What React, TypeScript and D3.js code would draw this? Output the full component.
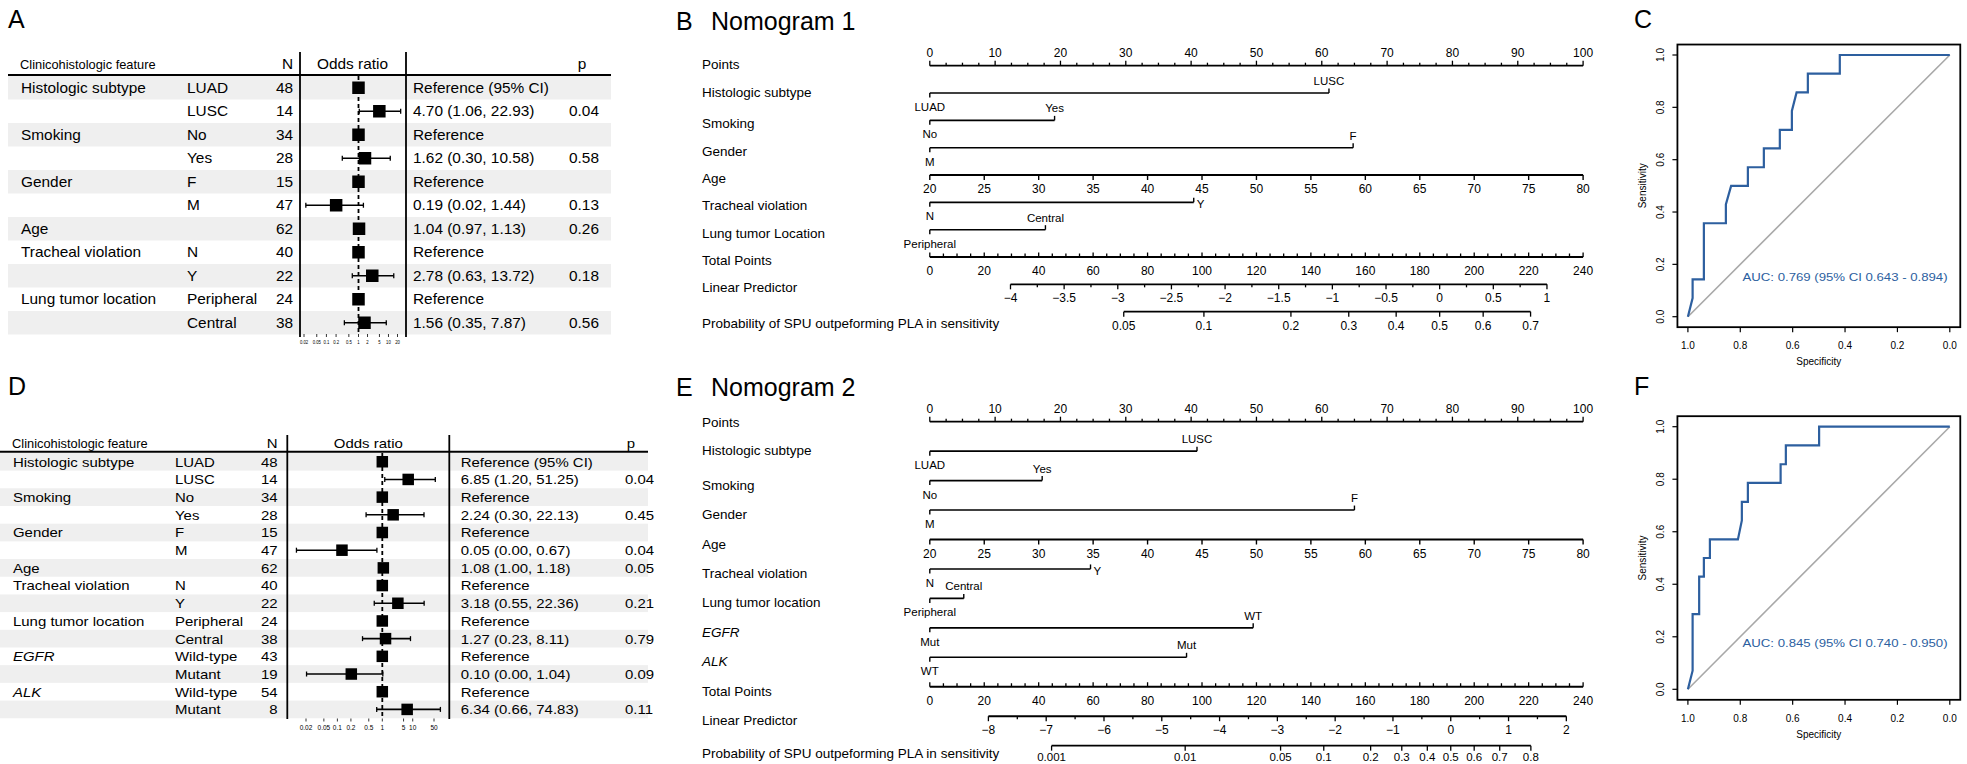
import React from 'react';
import * as d3 from 'd3';

const FONT = "'Liberation Sans', Arial, Helvetica, sans-serif";

// ---------------- Panel A: forest plot (model 1) ----------------
const aCategory = ['Histologic subtype', '', 'Smoking', '', 'Gender', '', 'Age', 'Tracheal violation', '', 'Lung tumor location', ''];
const aLevel = ['LUAD', 'LUSC', 'No', 'Yes', 'F', 'M', '', 'N', 'Y', 'Peripheral', 'Central'];
const aN = [48, 14, 34, 28, 15, 47, 62, 40, 22, 24, 38];
const aOR = [1, 4.70, 1, 1.62, 1, 0.19, 1.04, 1, 2.78, 1, 1.56];
const aLower = [NaN, 1.06, NaN, 0.30, NaN, 0.02, 0.97, NaN, 0.63, NaN, 0.35];
const aUpper = [NaN, 22.93, NaN, 10.58, NaN, 1.44, 1.13, NaN, 13.72, NaN, 7.87];
const aP = ['', '0.04', '', '0.58', '', '0.13', '0.26', '', '0.18', '', '0.56'];
const aTicks = [0.02, 0.05, 0.1, 0.2, 0.5, 1, 2, 5, 10, 20];

// ---------------- Panel D: forest plot (model 2) ----------------
const dCategory = ['Histologic subtype', '', 'Smoking', '', 'Gender', '', 'Age', 'Tracheal violation', '', 'Lung tumor location', '', 'EGFR', '', 'ALK', ''];
const dLevel = ['LUAD', 'LUSC', 'No', 'Yes', 'F', 'M', '', 'N', 'Y', 'Peripheral', 'Central', 'Wild-type', 'Mutant', 'Wild-type', 'Mutant'];
const dN = [48, 14, 34, 28, 15, 47, 62, 40, 22, 24, 38, 43, 19, 54, 8];
const dOR = [1, 6.85, 1, 2.24, 1, 0.05, 1.08, 1, 3.18, 1, 1.27, 1, 0.10, 1, 6.34];
const dLower = [NaN, 1.20, NaN, 0.30, NaN, 0.0017, 1.00, NaN, 0.55, NaN, 0.23, NaN, 0.0036, NaN, 0.66];
const dUpper = [NaN, 51.25, NaN, 22.13, NaN, 0.67, 1.18, NaN, 22.36, NaN, 8.11, NaN, 1.04, NaN, 74.83];
const dP = ['', '0.04', '', '0.45', '', '0.04', '0.05', '', '0.21', '', '0.79', '', '0.09', '', '0.11'];
const dTicks = [0.02, 0.05, 0.1, 0.2, 0.5, 1, 5, 10, 50];
const italicCategories = ['EGFR', 'ALK'];

// ---------------- Nomogram 1 (B) ----------------
const n1Names = ['Histologic subtype', 'Smoking', 'Gender', 'Age', 'Tracheal violation', 'Lung tumor Location'];
const n1Levels: (string[] | null)[] = [['LUAD', 'LUSC'], ['No', 'Yes'], ['M', 'F'], null, ['N', 'Y'], ['Peripheral', 'Central']];
const n1Points: (number[] | null)[] = [[0, 61.1], [0, 19.1], [0, 64.8], null, [0, 40.4], [0, 17.7]];
const n1LP = { intercept: -4.752, slope: 0.02537 };
const n1LPTicks = [-4, -3.5, -3, -2.5, -2, -1.5, -1, -0.5, 0, 0.5, 1];
const n1ProbTicks = [0.05, 0.1, 0.2, 0.3, 0.4, 0.5, 0.6, 0.7];

// ---------------- Nomogram 2 (E) ----------------
const n2Names = ['Histologic subtype', 'Smoking', 'Gender', 'Age', 'Tracheal violation', 'Lung tumor location', 'EGFR', 'ALK'];
const n2Levels: (string[] | null)[] = [['LUAD', 'LUSC'], ['No', 'Yes'], ['M', 'F'], null, ['N', 'Y'], ['Peripheral', 'Central'], ['Mut', 'WT'], ['WT', 'Mut']];
const n2Points: (number[] | null)[] = [[0, 40.9], [0, 17.2], [0, 65.0], null, [0, 24.6], [0, 5.2], [0, 49.5], [0, 39.3]];
const n2LP = { intercept: -9.014, slope: 0.0471 };
const n2LPTicks = [-8, -7, -6, -5, -4, -3, -2, -1, 0, 1, 2];
const n2ProbTicks = [0.001, 0.01, 0.05, 0.1, 0.2, 0.3, 0.4, 0.5, 0.6, 0.7, 0.8];

const pointsTicks = [0, 10, 20, 30, 40, 50, 60, 70, 80, 90, 100];
const totalPointsTicks = [0, 20, 40, 60, 80, 100, 120, 140, 160, 180, 200, 220, 240];
const ageTicks = [20, 25, 30, 35, 40, 45, 50, 55, 60, 65, 70, 75, 80];
const ageRange = [20, 80];

// ---------------- ROC curves (C, F) ----------------
const rocCSpec = [1.0, 0.982, 0.982, 0.939, 0.939, 0.855, 0.855, 0.835, 0.771, 0.771, 0.710, 0.710, 0.649, 0.649, 0.603, 0.603, 0.585, 0.542, 0.542, 0.420, 0.420, 0.0];
const rocCSens = [0, 0.071, 0.143, 0.143, 0.357, 0.357, 0.429, 0.5, 0.5, 0.571, 0.571, 0.643, 0.643, 0.714, 0.714, 0.786, 0.857, 0.857, 0.929, 0.929, 1.0, 1.0];
const rocFSpec = [1.0, 0.982, 0.982, 0.957, 0.957, 0.939, 0.939, 0.916, 0.916, 0.809, 0.794, 0.794, 0.771, 0.771, 0.646, 0.646, 0.626, 0.626, 0.499, 0.499, 0.0];
const rocFSens = [0, 0.071, 0.286, 0.286, 0.429, 0.429, 0.5, 0.5, 0.571, 0.571, 0.643, 0.714, 0.714, 0.786, 0.786, 0.857, 0.857, 0.929, 0.929, 1.0, 1.0];
const rocCAuc = 'AUC: 0.769 (95% CI 0.643 - 0.894)';
const rocFAuc = 'AUC: 0.845 (95% CI 0.740 - 0.950)';
const rocTicks = [0, 0.2, 0.4, 0.6, 0.8, 1.0];

const ROC_BLUE = '#2d5f9f';

function T({ x, y, size = 12, sx = 1, anchor = 'start', italic = false, fill = '#000', children }: any) {
  return (
    <text transform={`translate(${x},${y}) scale(${sx},1)`} fontSize={size} textAnchor={anchor}
      fontStyle={italic ? 'italic' : 'normal'} fill={fill}>{children}</text>
  );
}

function Forest({ L, cat, lev, ns, or, lo, hi, p, ticks }: any) {
  const xs = d3.scaleLog().domain([0.1, 10]).range(L.dataRange);
  const tk = d3.scaleLog().domain(L.tickDomain).range(L.tickRange);
  const nRows = or.length;
  const rowC = (i: number) => L.rowTop + (i + 0.5) * L.rowH;
  const fmt = d3.format('.2f');
  const ts = L.textSize, sx = L.sx;
  const els: any[] = [];
  for (let i = 0; i < nRows; i++) {
    if (i % 2 === 0) els.push(<rect key={'bg' + i} x={L.x0} y={L.rowTop + i * L.rowH} width={L.x1 - L.x0} height={L.rowH} fill="#efefef" />);
  }
  // header
  els.push(<T key="h1" x={L.catX - 1} y={L.headerY} size={12.6} sx={1.02}>Clinicohistologic feature</T>);
  els.push(<T key="h2" x={L.nRight} y={L.headerY} size={ts} sx={sx} anchor="end">N</T>);
  els.push(<T key="h3" x={L.oddsC} y={L.headerY} size={ts} sx={sx} anchor="middle">Odds ratio</T>);
  els.push(<T key="h4" x={L.pHeader} y={L.headerY} size={ts} sx={sx} anchor="middle">p</T>);
  els.push(<line key="hl" x1={L.x0} x2={L.x1} y1={L.headerLine} y2={L.headerLine} stroke="#000" strokeWidth={2} />);
  els.push(<line key="v1" x1={L.v1} x2={L.v1} y1={L.vTop} y2={L.vBottom} stroke="#000" strokeWidth={1.8} />);
  els.push(<line key="v2" x1={L.v2} x2={L.v2} y1={L.vTop} y2={L.vBottom} stroke="#000" strokeWidth={1.8} />);
  // reference dashed line
  els.push(<line key="ref" x1={xs(1)} x2={xs(1)} y1={L.rowTop} y2={L.rowTop + nRows * L.rowH} stroke="#000" strokeWidth={1.8} strokeDasharray="4,3" />);
  for (let i = 0; i < nRows; i++) {
    const cy = rowC(i);
    const by = cy + ts * 0.36;
    if (cat[i]) els.push(<T key={'c' + i} x={L.catX} y={by} size={ts} sx={sx} italic={italicCategories.includes(cat[i])}>{cat[i]}</T>);
    if (lev[i]) els.push(<T key={'l' + i} x={L.levelX} y={by} size={ts} sx={sx}>{lev[i]}</T>);
    els.push(<T key={'n' + i} x={L.nRight} y={by} size={ts} sx={sx} anchor="end">{String(ns[i])}</T>);
    const isRef = isNaN(lo[i]);
    const ci = isRef ? (i === 0 ? 'Reference (95% CI)' : 'Reference') : `${fmt(or[i])} (${fmt(lo[i])}, ${fmt(hi[i])})`;
    els.push(<T key={'ci' + i} x={L.ciX} y={by} size={ts} sx={sx}>{ci}</T>);
    if (p[i]) els.push(<T key={'p' + i} x={L.pX} y={by} size={ts} sx={sx}>{p[i]}</T>);
    if (!isRef) {
      const xl = xs(lo[i]), xh = xs(hi[i]);
      els.push(<line key={'w' + i} x1={xl} x2={xh} y1={cy} y2={cy} stroke="#000" strokeWidth={1.6} />);
      els.push(<line key={'wl' + i} x1={xl} x2={xl} y1={cy - 2.5} y2={cy + 2.5} stroke="#000" strokeWidth={1.3} />);
      els.push(<line key={'wh' + i} x1={xh} x2={xh} y1={cy - 2.5} y2={cy + 2.5} stroke="#000" strokeWidth={1.3} />);
    }
    const s = L.box;
    els.push(<rect key={'b' + i} x={xs(or[i]) - s / 2} y={cy - s / 2} width={s} height={s} fill="#000" />);
  }
  ticks.forEach((t: number, i: number) => {
    const x = tk(t);
    els.push(<line key={'tk' + i} x1={x} x2={x} y1={L.tickY} y2={L.tickY + 3} stroke="#000" strokeWidth={0.8} />);
    els.push(<T key={'tl' + i} x={x} y={L.tickLabelY} size={L.tickSize} sx={L.tickSx} anchor="middle">{String(t)}</T>);
  });
  return <g>{els}</g>;
}

const minus = (v: number) => String(v).replace('-', '\u2212');

function Nomogram({ L, names, levels, points, place, lp, lpTicks, probTicks }: any) {
  const px = d3.scaleLinear().domain([0, 100]).range([L.x0, L.x1]);
  const tx = d3.scaleLinear().domain([0, 240]).range([L.x0, L.x1]);
  const ageToPts = d3.scaleLinear().domain(ageRange).range([0, 100]);
  const lpToTP = (v: number) => (v - lp.intercept) / lp.slope;
  const logit = (p: number) => Math.log(p / (1 - p));
  const labels = ['Points', ...names, 'Total Points', 'Linear Predictor', 'Probability of SPU outpeforming PLA in sensitivity'];
  const nRows = labels.length;
  const yOf = (i: number) => L.top + i * L.step;
  const els: any[] = [];
  const SW = 1.6;
  const ln = (k: string, x1: number, y1: number, x2: number, y2: number, w = SW) =>
    els.push(<line key={k} x1={x1} x2={x2} y1={y1} y2={y2} stroke="#000" strokeWidth={w} />);
  labels.forEach((lab: string, i: number) => {
    const dy = i === 0 ? L.dyPoints : i === 1 ? L.dyHist : i === nRows - 1 ? L.dyProb : L.dyRow;
    els.push(<text key={'lab' + i} x={L.labelX} y={yOf(i) + dy} fontSize={13.5}
      fontStyle={italicCategories.includes(lab) ? 'italic' : 'normal'}>{lab}</text>);
  });
  // Points axis
  {
    const y = yOf(0);
    ln('pl', px(0), y, px(100), y, 1.8);
    d3.range(0, 100.01, 2.5).forEach((v, j) => {
      const major = pointsTicks.includes(v);
      ln('pt' + j, px(v), y, px(v), y - (major ? 5 : 3), 1.3);
    });
    pointsTicks.forEach((v, j) => els.push(<text key={'ptl' + j} x={px(v)} y={y - 9} fontSize={12} textAnchor="middle">{v}</text>));
  }
  // predictor rows
  names.forEach((nm: string, k: number) => {
    const y = yOf(k + 1);
    if (levels[k] === null) {
      const a0 = px(ageToPts(ageRange[0])), a1 = px(ageToPts(ageRange[1]));
      ln('al' + k, a0, y, a1, y, 1.9);
      ageTicks.forEach((v, j) => {
        const x = px(ageToPts(v));
        ln('at' + j, x, y, x, y + 5, 1.4);
        els.push(<text key={'atl' + j} x={x} y={y + 18} fontSize={12} textAnchor="middle">{v}</text>);
      });
      return;
    }
    const pts: number[] = points[k];
    ln('cl' + k, px(d3.min(pts)!), y, px(d3.max(pts)!), y);
    levels[k].forEach((lv: string, j: number) => {
      const x = px(pts[j]);
      const pl = place[k][j];
      if (pl === 'b') {
        ln('ct' + k + j, x, y, x, y + 4.5, 1.4);
        els.push(<text key={'ctl' + k + j} x={x} y={y + 18} fontSize={11.5} textAnchor="middle">{lv}</text>);
      } else if (pl === 'a') {
        ln('ct' + k + j, x, y, x, y - 4.5, 1.4);
        els.push(<text key={'ctl' + k + j} x={x} y={y - 8} fontSize={11.5} textAnchor="middle">{lv}</text>);
      } else {
        ln('ct' + k + j, x, y, x, y - 4.5, 1.4);
        els.push(<text key={'ctl' + k + j} x={x + 3} y={y + 6} fontSize={11.5}>{lv}</text>);
      }
    });
  });
  // Total points
  {
    const y = yOf(nRows - 3);
    ln('tl', tx(0), y, tx(240), y, 1.9);
    d3.range(0, 240.01, 5).forEach((v, j) => {
      const major = totalPointsTicks.includes(v);
      ln('tt' + j, tx(v), y, tx(v), y - (major ? 4.5 : 3.5), 1.3);
    });
    totalPointsTicks.forEach((v, j) => els.push(<text key={'ttl' + j} x={tx(v)} y={y + 18} fontSize={12} textAnchor="middle">{v}</text>));
  }
  // Linear predictor
  {
    const y = yOf(nRows - 2);
    const lo = lpTicks[0], hi = lpTicks[lpTicks.length - 1];
    ln('lpl', tx(lpToTP(lo)), y, tx(lpToTP(hi)), y, 1.9);
    const step = lpTicks[1] - lpTicks[0];
    d3.range(lo, hi + 1e-9, step / 2).forEach((v, j) => {
      const major = j % 2 === 0;
      const x = tx(lpToTP(v));
      ln('lpt' + j, x, y, x, y + (major ? 5 : 3), 1.3);
    });
    lpTicks.forEach((v: number, j: number) => els.push(<text key={'lptl' + j} x={tx(lpToTP(v))} y={y + 18} fontSize={12} textAnchor="middle">{minus(v)}</text>));
  }
  // Probability
  {
    const y = yOf(nRows - 1);
    const xp = (p: number) => tx(lpToTP(logit(p)));
    ln('prl', xp(probTicks[0]), y, xp(probTicks[probTicks.length - 1]), y, 1.6);
    probTicks.forEach((v: number, j: number) => {
      ln('prt' + j, xp(v), y, xp(v), y + 5, 1.3);
      els.push(<text key={'prtl' + j} x={xp(v)} y={y + L.probLabelDy} fontSize={L.probLabelSize} textAnchor="middle">{String(v)}</text>);
    });
  }
  return <g>{els}</g>;
}

function Roc({ L, spec, sens, auc, aucSens }: any) {
  const x = d3.scaleLinear().domain([1, 0]).range([1687.9, 1949.8]);
  const y = d3.scaleLinear().domain([0, 1]).range([L.y0, L.y1]);
  const line = d3.line<number>().x((_, i) => x(spec[i])).y((_, i) => y(sens[i]));
  const idx = spec.map((_: number, i: number) => i);
  const bx0 = x(1.04), bx1 = x(-0.04), by0 = y(1.04), by1 = y(-0.04);
  const fmt = d3.format('.1f');
  return (
    <g>
      <line x1={x(1)} y1={y(0)} x2={x(0)} y2={y(1)} stroke="#a8a8a8" strokeWidth={1.6} />
      <path d={line(idx) || ''} fill="none" stroke={ROC_BLUE} strokeWidth={2.2} />
      <rect x={bx0} y={by0} width={bx1 - bx0} height={by1 - by0} fill="none" stroke="#000" strokeWidth={1.8} />
      {rocTicks.map((t, i) => (
        <g key={'xt' + i}>
          <line x1={x(t)} x2={x(t)} y1={by1} y2={by1 + 5} stroke="#000" strokeWidth={1.2} />
          <text x={x(t)} y={by1 + 22} fontSize={10} textAnchor="middle">{fmt(t)}</text>
        </g>
      ))}
      {rocTicks.map((t, i) => (
        <g key={'yt' + i}>
          <line x1={bx0} x2={bx0 - 5} y1={y(t)} y2={y(t)} stroke="#000" strokeWidth={1.2} />
          <text transform={`translate(${bx0 - 13.5},${y(t)}) rotate(-90)`} fontSize={10} textAnchor="middle">{fmt(t)}</text>
        </g>
      ))}
      <text x={(bx0 + bx1) / 2} y={by1 + 38} fontSize={10} textAnchor="middle">Specificity</text>
      <text transform={`translate(${bx0 - 31.5},${(by0 + by1) / 2}) rotate(-90)`} fontSize={10} textAnchor="middle">Sensitivity</text>
      <T x={x(0.4)} y={y(aucSens) + 4} size={11} sx={1.2} anchor="middle" fill={ROC_BLUE}>{auc}</T>
    </g>
  );
}

const layoutA = {
  x0: 8, x1: 611, headerY: 69, headerLine: 75, rowTop: 76, rowH: 23.5,
  catX: 21, levelX: 187, nRight: 293, v1: 300, v2: 406, vTop: 52, vBottom: 337,
  oddsC: 352.5, ciX: 413, pX: 569, pHeader: 582,
  dataRange: [327.5, 389.5], tickDomain: [0.02, 1, 20], tickRange: [304, 358.5, 397.5],
  tickY: 334, tickLabelY: 343.5, tickSize: 5, tickSx: 0.85, box: 12.5, textSize: 14, sx: 1.1,
};
const layoutD = {
  x0: 0, x1: 648, headerY: 448, headerLine: 451.7, rowTop: 452.9, rowH: 17.69,
  catX: 13, levelX: 175, nRight: 277.6, v1: 287.3, v2: 449.3, vTop: 435, vBottom: 719,
  oddsC: 368.3, ciX: 460.7, pX: 625, pHeader: 631,
  dataRange: [351.3, 413.3], tickDomain: [0.02, 1, 50], tickRange: [306, 382.3, 434],
  tickY: 718.5, tickLabelY: 729.5, tickSize: 6.5, tickSx: 1, box: 11.5, textSize: 13.6, sx: 1.1,
};
const layoutB = { x0: 929.8, x1: 1583.1, top: 65.7, step: 27.33, labelX: 702, dyPoints: 3, dyHist: 3.5, dyRow: 8, dyProb: 16, probLabelDy: 18, probLabelSize: 12 };
const layoutE = { x0: 929.8, x1: 1583.1, top: 421.7, step: 29.45, labelX: 702, dyPoints: 5, dyHist: 4, dyRow: 9, dyProb: 12, probLabelDy: 15.5, probLabelSize: 11.5 };

const n1Place = [['b', 'a'], ['b', 'a'], ['b', 'a'], null, ['b', 'r'], ['b', 'a']];
const n2Place = [['b', 'a'], ['b', 'a'], ['b', 'a'], null, ['b', 'r'], ['b', 'a'], ['b', 'a'], ['b', 'a']];

export default function App() {
  return (
    <svg width={1967} height={764} fontFamily={FONT}
      style={{ position: 'absolute', left: 0, top: 0, display: 'block', background: '#fff' }}>
      <rect width={1967} height={764} fill="#fff" />
      <text x={8} y={28} fontSize={25}>A</text>
      <text x={8} y={395} fontSize={25}>D</text>
      <text x={676} y={30} fontSize={25}>B</text>
      <text x={711} y={30} fontSize={25}>Nomogram 1</text>
      <text x={676} y={396} fontSize={25}>E</text>
      <text x={711} y={396} fontSize={25}>Nomogram 2</text>
      <text x={1634} y={28} fontSize={25}>C</text>
      <text x={1634} y={395} fontSize={25}>F</text>
      <Forest L={layoutA} cat={aCategory} lev={aLevel} ns={aN} or={aOR} lo={aLower} hi={aUpper} p={aP} ticks={aTicks} />
      <Forest L={layoutD} cat={dCategory} lev={dLevel} ns={dN} or={dOR} lo={dLower} hi={dUpper} p={dP} ticks={dTicks} />
      <Nomogram L={layoutB} names={n1Names} levels={n1Levels} points={n1Points} place={n1Place} lp={n1LP} lpTicks={n1LPTicks} probTicks={n1ProbTicks} />
      <Nomogram L={layoutE} names={n2Names} levels={n2Levels} points={n2Points} place={n2Place} lp={n2LP} lpTicks={n2LPTicks} probTicks={n2ProbTicks} />
      <Roc L={{ y0: 316.7, y1: 55 }} spec={rocCSpec} sens={rocCSens} auc={rocCAuc} aucSens={0.153} />
      <Roc L={{ y0: 689.3, y1: 426.7 }} spec={rocFSpec} sens={rocFSens} auc={rocFAuc} aucSens={0.177} />
    </svg>
  );
}
